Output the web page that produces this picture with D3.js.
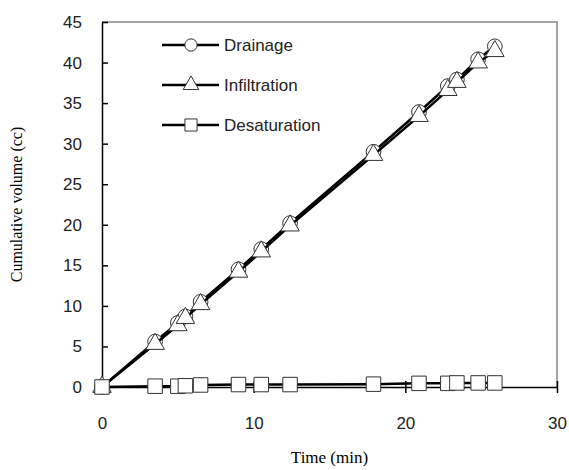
<!DOCTYPE html>
<html><head><meta charset="utf-8">
<script src="https://cdn.jsdelivr.net/npm/d3@7"></script>
<style>body{margin:0;background:#fff}</style>
</head><body>
<script>
var times = [0, 3.5, 5.0, 5.5, 6.5, 9.0, 10.5, 12.4, 17.9, 20.9, 22.8, 23.4, 24.8, 25.9];
var drainage = [0, 5.6, 7.9, 8.7, 10.5, 14.5, 17.0, 20.2, 29.0, 33.9, 37.1, 37.9, 40.4, 42.0];
var infiltration = [0, 5.3, 7.6, 8.5, 10.2, 14.2, 16.7, 19.9, 28.6, 33.4, 36.6, 37.6, 40.0, 41.4];
var desaturation = [0, 0.1, 0.1, 0.15, 0.25, 0.3, 0.3, 0.3, 0.35, 0.45, 0.45, 0.5, 0.5, 0.5];
var xTicks = [0, 10, 20, 30];
var yTicks = [0, 5, 10, 15, 20, 25, 30, 35, 40, 45];

var W = 569, H = 470, m = {l: 102, t: 22, r: 12, b: 83};
var svg = d3.select("body").append("svg").attr("width", W).attr("height", H)
  .style("font-family", "Arial, 'Liberation Sans', sans-serif");
var x = d3.scaleLinear().domain([0, 30]).range([m.l, W - m.r]);
var y = d3.scaleLinear().domain([0, 45]).range([H - m.b, m.t]);

// frame top/right
svg.append("path").attr("d", "M" + x(0) + "," + y(45) + "H" + x(30) + "V" + y(0))
  .attr("fill", "none").attr("stroke", "#888").attr("stroke-width", 1.5);

var ya = svg.append("g").attr("transform", "translate(" + x(0) + ",0)")
  .call(d3.axisLeft(y).tickValues(yTicks).tickSizeInner(6).tickSizeOuter(0).tickPadding(14));
ya.selectAll(".tick line").attr("x2", 6);
var xa = svg.append("g").attr("transform", "translate(0," + y(0) + ")")
  .call(d3.axisBottom(x).tickValues(xTicks).tickSizeInner(6).tickSizeOuter(0).tickPadding(24));
xa.selectAll(".tick line").attr("y1", -6);
svg.selectAll(".domain, .tick line").attr("stroke", "#000").attr("stroke-width", 1.5);
svg.selectAll(".tick text").attr("font-size", 17).attr("fill", "#222");

svg.append("text").attr("x", (x(0) + x(30)) / 2).attr("y", 463).attr("text-anchor", "middle")
  .attr("font-family", "'Liberation Serif', 'Times New Roman', serif").attr("font-size", 17).text("Time (min)");
svg.append("text").attr("transform", "translate(22," + y(22.5) + ") rotate(-90)").attr("text-anchor", "middle")
  .attr("font-family", "'Liberation Serif', 'Times New Roman', serif").attr("font-size", 16).text("Cumulative volume (cc)");

var series = [
  {name: "Drainage", vals: drainage, shape: d3.symbolCircle, size: 170},
  {name: "Infiltration", vals: infiltration, shape: d3.symbolTriangle, size: 150},
  {name: "Desaturation", vals: desaturation, shape: d3.symbolSquare, size: 210}
];
var line = d3.line().x(function(d){ return x(d[0]); }).y(function(d){ return y(d[1]); });
series.forEach(function(s) {
  var pts = times.map(function(t, i){ return [t, s.vals[i]]; });
  svg.append("path").attr("d", line(pts)).attr("fill", "none").attr("stroke", "#000").attr("stroke-width", 2.5);
  svg.selectAll(null).data(pts).enter().append("path")
    .attr("d", d3.symbol().type(s.shape).size(s.size))
    .attr("transform", function(d){ return "translate(" + x(d[0]) + "," + y(d[1]) + ")"; })
    .attr("fill", "#fff").attr("stroke", "#333").attr("stroke-width", 1);
});

var lg = svg.selectAll(".lg").data(series).enter().append("g")
  .attr("transform", function(d, i){ return "translate(162," + (45 + i * 40) + ")"; });
lg.append("line").attr("x1", 0).attr("x2", 57).attr("stroke", "#000").attr("stroke-width", 2.5);
lg.append("path").attr("d", function(d){ return d3.symbol().type(d.shape).size(d.size * 0.7)(); })
  .attr("transform", "translate(29,0)").attr("fill", "#fff").attr("stroke", "#333");
lg.append("text").attr("x", 62).attr("dy", "0.35em").attr("font-size", 17).attr("fill", "#222")
  .text(function(d){ return d.name; });
</script>
</body></html>
